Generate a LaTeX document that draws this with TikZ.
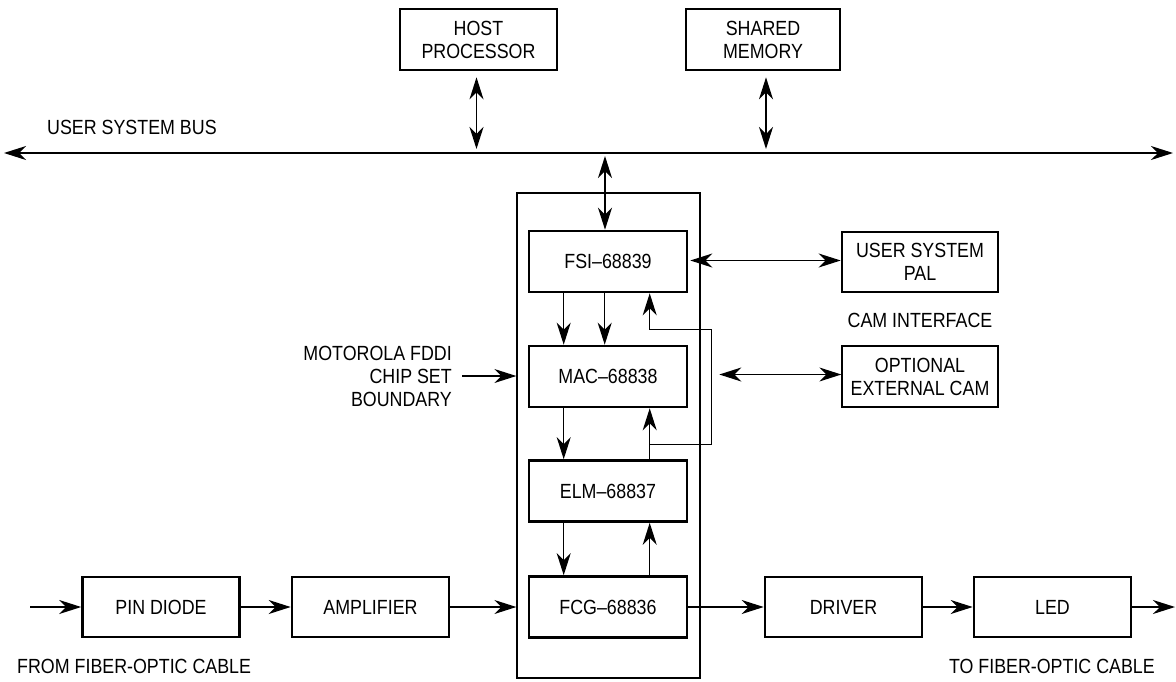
\documentclass[tikz,border=0pt]{standalone}
\usepackage{fontspec}
\setmainfont[FakeStretch=0.87]{Liberation Sans}
\usetikzlibrary{arrows.meta,calc}
\begin{document}
\begin{tikzpicture}[x=1pt,y=-1pt,
  font=\fontsize{20.5}{23}\selectfont,
  blk/.style={draw,line width=2.6pt,minimum width=157pt,minimum height=61pt,align=center,inner sep=0pt},
  thinblk/.style={draw,line width=1.3pt,minimum width=156pt,minimum height=61pt,align=center,inner sep=0pt},
  conn/.style={line width=1.3pt,-{Stealth[length=22pt,width=14pt,inset=7pt]}},
  bconn/.style={line width=1.3pt,{Stealth[length=22pt,width=14pt,inset=7pt]}-{Stealth[length=22pt,width=14pt,inset=7pt]}},
  lbl/.style={inner sep=0pt}]
\useasboundingbox (0,0) rectangle (1176,681);
% boundary
\node[draw,line width=1.3pt,minimum width=183pt,minimum height=485pt,inner sep=0pt] (bound) at (608.5,435.5) {};
% top boxes
\node[blk] (host) at (478.5,39.5) {HOST\\PROCESSOR};
\node[blk,minimum width=154pt] (shared) at (763,39.5) {SHARED\\MEMORY};
% bus
\coordinate (busL) at (4,153);
\coordinate (busR) at (1173,153);
\draw[bconn] (busL) -- (busR);
\node[lbl,anchor=base west] (bustxt) at (47,134) {USER SYSTEM BUS};
% chip boxes
\node[blk,minimum width=158pt] (fsi) at (608,261.5) {FSI–68839};
\node[blk,minimum width=158pt] (mac) at (608,376.5) {MAC–68838};
\node[blk,minimum width=158pt] (elm) at (608,491) {ELM–68837};
\node[blk,minimum width=158pt] (fcg) at (608,607) {FCG–68836};
% side boxes
\node[blk,minimum width=156pt,minimum height=60pt] (pal) at (920,262) {USER SYSTEM\\PAL};
\node[lbl] (camif) at (920,320) {CAM INTERFACE};
\node[thinblk] (cam) at (920,376.5) {OPTIONAL\\EXTERNAL CAM};
% bottom row
\node[blk,minimum height=60pt] (pin) at (161,607) {PIN DIODE};
\node[blk,minimum height=60pt] (amp) at (370.5,607) {AMPLIFIER};
\node[blk,minimum height=60pt] (drv) at (843.5,607) {DRIVER};
\node[blk,minimum height=60pt] (led) at (1052.5,607) {LED};
\coordinate (in) at (30,607);
\coordinate (out) at (1175,607);
\node[lbl,anchor=base west] (from) at (17,673) {FROM FIBER-OPTIC CABLE};
\node[lbl,anchor=base east] (to) at (1155,673) {TO FIBER-OPTIC CABLE};
% motorola label
\node[lbl,anchor=east,align=right] (moto) at (452,376) {MOTOROLA FDDI\\CHIP SET\\BOUNDARY};
\draw[conn] ($(moto.east)+(10,0)$) -- (bound.west |- moto.east);
% host / shared to bus
\draw[bconn] ($(host.south)+(-2,6)$) -- ($(host.south |- busL)+(-2,-4)$);
\draw[bconn] ($(shared.south)+(3,6)$) -- ($(shared.south |- busL)+(3,-4)$);
\draw[bconn] ($(fsi.north |- busL)+(-3,3)$) -- ($(fsi.north)+(-3,0)$);
% fsi to mac
\draw[conn] ($(fsi.south west)+(36,0)$) -- ($(mac.north west)+(36,0)$);
\draw[conn] ($(fsi.south west)+(77,0)$) -- ($(mac.north west)+(77,0)$);
% mac to elm, elm to fcg
\draw[conn] ($(mac.south west)+(36,0)$) -- ($(elm.north west)+(36,0)$);
\draw[conn] ($(elm.south west)+(36,0)$) -- ($(fcg.north west)+(36,0)$);
% upward
\draw[conn] ($(fcg.north west)+(122,0)$) -- ($(elm.south west)+(122,0)$);
\draw[conn] ($(elm.north west)+(122,0)$) -- ($(mac.south west)+(122,0)$);
\draw[conn] ($(elm.north west)+(122,-15)$) -- ++(62,0) -- ++(0,-115) -- ++(-62,0) -- ($(fsi.south west)+(122,0)$);
% side links
\draw[bconn] ($(fsi.east)+(2,-1)$) -- (pal.west |- {$(fsi.east)+(2,-1)$});
\draw[bconn] ($(mac.east)+(31,-2)$) -- (cam.west |- {$(mac.east)+(31,-2)$});
% bottom chain
\draw[conn] (in) -- (pin.west);
\draw[conn] (pin.east) -- (amp.west);
\draw[conn] (amp.east) -- (bound.west |- amp.east);
\draw[conn] (fcg.east) -- (drv.west);
\draw[conn] (drv.east) -- (led.west);
\draw[conn] (led.east) -- (out);
\end{tikzpicture}
\end{document}
